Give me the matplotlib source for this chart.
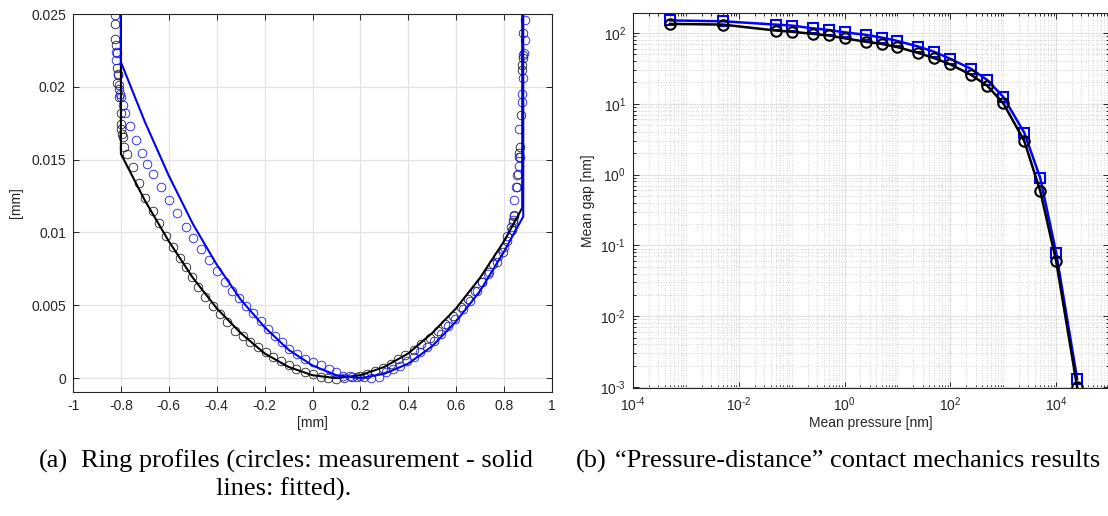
import numpy as np
import matplotlib
matplotlib.use("Agg")
import matplotlib.pyplot as plt
from matplotlib.ticker import FixedLocator, FuncFormatter, NullFormatter

plt.rcParams["font.family"] = ["Liberation Sans", "DejaVu Sans"]
plt.rcParams["axes.unicode_minus"] = False
plt.rcParams["mathtext.default"] = "regular"

# ---------------- (a) ring profiles ----------------
# measured profile, ring 1 (black circles)
meas_black_x = [-0.825, -0.824, -0.819, -0.816, -0.818, -0.813, -0.816, -0.810, -0.806, -0.801,
                -0.799, -0.799, -0.794, -0.791, -0.787, -0.773, -0.751, -0.724, -0.699, -0.667,
                -0.642, -0.612, -0.582, -0.552, -0.530, -0.504, -0.478, -0.448, -0.416, -0.385,
                -0.357, -0.325, -0.291, -0.261, -0.227, -0.194, -0.164, -0.131, -0.100, -0.067,
                -0.033, 0.000, 0.034, 0.064, 0.097, 0.130, 0.164, 0.199, 0.228, 0.261,
                0.294, 0.328, 0.358, 0.388, 0.422, 0.455, 0.490, 0.522, 0.552, 0.587,
                0.619, 0.649, 0.679, 0.709, 0.739, 0.769, 0.796, 0.813, 0.831, 0.836,
                0.843, 0.854, 0.858, 0.861, 0.861, 0.866, 0.869, 0.873, 0.873, 0.878,
                0.881, 0.881]
meas_black_y = [0.02431, 0.02328, 0.02287, 0.02234, 0.02126, 0.02087, 0.02023, 0.01982, 0.01931, 0.01817,
                0.01748, 0.01713, 0.01679, 0.01656, 0.01587, 0.01537, 0.01450, 0.01339, 0.01236, 0.01147,
                0.01064, 0.00979, 0.00899, 0.00826, 0.00761, 0.00697, 0.00628, 0.00560, 0.00498, 0.00440,
                0.00383, 0.00326, 0.00291, 0.00245, 0.00211, 0.00177, 0.00142, 0.00119, 0.00089, 0.00062,
                0.00044, 0.00028, 0.00009, 0.00000, -0.00005, 0.00000, 0.00005, 0.00016, 0.00032, 0.00050,
                0.00073, 0.00096, 0.00131, 0.00158, 0.00193, 0.00234, 0.00275, 0.00326, 0.00372, 0.00429,
                0.00486, 0.00544, 0.00601, 0.00663, 0.00727, 0.00796, 0.00865, 0.00945, 0.01014, 0.01071,
                0.01110, 0.01312, 0.01404, 0.01518, 0.01546, 0.01587, 0.01805, 0.02115, 0.02149, 0.02195,
                0.02218, 0.02367]

# measured profile, ring 2 (blue circles)
meas_blue_x = [-0.825, -0.821, -0.821, -0.813, -0.809, -0.803, -0.799, -0.791, -0.781, -0.761,
               -0.736, -0.712, -0.690, -0.664, -0.634, -0.601, -0.567, -0.530, -0.497, -0.466,
               -0.433, -0.400, -0.366, -0.336, -0.306, -0.276, -0.249, -0.216, -0.187, -0.157,
               -0.127, -0.097, -0.064, -0.030, 0.000, 0.037, 0.067, 0.097, 0.127, 0.157,
               0.187, 0.216, 0.246, 0.276, 0.306, 0.336, 0.366, 0.396, 0.425, 0.448,
               0.478, 0.507, 0.537, 0.567, 0.597, 0.627, 0.657, 0.687, 0.709, 0.731,
               0.754, 0.776, 0.799, 0.813, 0.828, 0.836, 0.843, 0.843, 0.851, 0.855,
               0.861, 0.866, 0.863, 0.873, 0.876, 0.881, 0.885, 0.888, 0.888]
meas_blue_y = [0.02493, 0.02241, 0.02183, 0.02080, 0.02011, 0.01954, 0.01931, 0.01874, 0.01817, 0.01729,
               0.01633, 0.01546, 0.01472, 0.01399, 0.01312, 0.01220, 0.01133, 0.01041, 0.00963, 0.00888,
               0.00812, 0.00734, 0.00658, 0.00601, 0.00548, 0.00498, 0.00447, 0.00390, 0.00337, 0.00291,
               0.00245, 0.00200, 0.00165, 0.00131, 0.00108, 0.00092, 0.00062, 0.00039, 0.00016, 0.00016,
               0.00009, 0.00005, -0.00002, 0.00009, 0.00039, 0.00062, 0.00085, 0.00119, 0.00147, 0.00177,
               0.00211, 0.00257, 0.00303, 0.00360, 0.00406, 0.00475, 0.00532, 0.00601, 0.00658, 0.00716,
               0.00784, 0.00842, 0.00899, 0.00979, 0.01037, 0.01083, 0.01117, 0.01220, 0.01312, 0.01392,
               0.01456, 0.01518, 0.01713, 0.01897, 0.01954, 0.02062, 0.02229, 0.02321, 0.02459]

# fitted profiles (solid lines)
fit_black_x = [-0.8, -0.8, -0.7, -0.6, -0.5, -0.4, -0.3, -0.2, -0.1, 0.0, 0.1,
               0.2, 0.3, 0.4, 0.5, 0.6, 0.7, 0.8, 0.876, 0.876]
fit_black_y = [0.025, 0.0154, 0.0122, 0.0094, 0.0069, 0.0048, 0.0031, 0.0017, 0.00077, 0.0002, 0.0,
               0.0002, 0.00077, 0.0017, 0.0031, 0.0048, 0.0069, 0.0094, 0.0117, 0.025]
fit_blue_x = [-0.8, -0.8, -0.7, -0.6, -0.5, -0.4, -0.3, -0.2, -0.1, 0.0, 0.1,
              0.2, 0.3, 0.4, 0.5, 0.6, 0.7, 0.8, 0.88, 0.88]
fit_blue_y = [0.025, 0.0217, 0.0176, 0.0139, 0.0106, 0.0078, 0.0054, 0.0035, 0.00195, 0.00087, 0.0002,
              0.0, 0.0003, 0.0010, 0.0022, 0.0039, 0.0060, 0.0087, 0.0111, 0.025]

profile_xticks = [-1, -0.8, -0.6, -0.4, -0.2, 0, 0.2, 0.4, 0.6, 0.8, 1]
profile_yticks = [0, 0.005, 0.01, 0.015, 0.02, 0.025]

# ---------------- (b) pressure-distance ----------------
pressure = [5e-4, 5e-3, 0.05, 0.1, 0.25, 0.5, 1, 2.5, 5, 10,
            25, 50, 100, 250, 500, 1000, 2500, 5000, 1e4, 2.5e4]
gap_black = [134, 131, 108, 104, 97, 92, 84, 75, 70, 63,
             52, 44, 36, 25.4, 17.9, 10.2, 2.98, 0.59, 0.0605, 0.001]
gap_blue = [150, 146, 131, 127, 116, 110, 102, 94, 86, 77,
            64, 54, 43, 30.9, 21.6, 12.5, 3.9, 0.90, 0.079, 0.0013]

axis_col = "#262626"
grid_col = "#e3e3e3"

fig = plt.figure(figsize=(11.08, 5.16), dpi=100)
W, H = 1108, 516
ax1 = fig.add_axes([73 / W, (H - 392) / H, 479 / W, 378 / H])
ax2 = fig.add_axes([633 / W, (H - 388) / H, 476 / W, 375 / H])


def style_axes(ax):
    for s in ax.spines.values():
        s.set_color(axis_col)
        s.set_linewidth(0.8)
    ax.tick_params(which="both", direction="in", top=True, right=True,
                   colors=axis_col, labelcolor=axis_col, labelsize=10, width=0.7)
    ax.tick_params(which="major", length=4.5, pad=5)
    ax.tick_params(which="minor", length=2.5)
    ax.set_axisbelow(True)


def log_label(v, pos):
    e = int(round(np.log10(v)))
    sign = "-" if e < 0 else ""
    return rf"$10^{{{sign}{abs(e)}}}$".replace("{-", "{\u2010")


# (a)
ax1.plot(meas_black_x, meas_black_y, "o", ls="none", mfc="none", mec="#222222",
         ms=6.2, mew=0.6)
ax1.plot(meas_blue_x, meas_blue_y, "o", ls="none", mfc="none", mec="#1a1aff",
         ms=6.2, mew=0.6)
ax1.plot(fit_black_x, fit_black_y, "-", color="black", lw=1.5)
ax1.plot(fit_blue_x, fit_blue_y, "-", color="#0000ff", lw=1.5)
ax1.set_xlim(-1, 1)
ax1.set_ylim(-0.00095, 0.025)
ax1.xaxis.set_major_locator(FixedLocator(profile_xticks))
ax1.yaxis.set_major_locator(FixedLocator(profile_yticks))
ax1.xaxis.set_major_formatter(FuncFormatter(lambda v, p: f"{round(v, 4):g}"))
ax1.yaxis.set_major_formatter(FuncFormatter(lambda v, p: f"{round(v, 5):g}"))
ax1.grid(True, which="major", color=grid_col, lw=0.9)
style_axes(ax1)
ax1.set_xlabel("[mm]", fontsize=10, color=axis_col, labelpad=2)
ax1.set_ylabel("[mm]", fontsize=10, color=axis_col, labelpad=6)

# (b)
ax2.set_xscale("log")
ax2.set_yscale("log")
ax2.plot(pressure, gap_blue, "-s", color="#0000ff", lw=1.8, ms=7, mew=1.5, mfc="none")
ax2.plot(pressure, gap_black, "-o", color="black", lw=1.8, ms=7.5, mew=1.5, mfc="none")
ax2.set_xlim(1e-4, 1e5)
ax2.set_ylim(9.7e-4, 191)
xmaj = [1e-4, 1e-2, 1e0, 1e2, 1e4]
xmin = [k * 10.0 ** e for e in range(-4, 5) for k in range(1, 10)]
xmin = [v for v in xmin if v not in xmaj and v <= 1e5]
ymaj = [1e-3, 1e-2, 1e-1, 1e0, 1e1, 1e2]
ymin = [k * 10.0 ** e for e in range(-3, 3) for k in range(2, 10)]
ax2.xaxis.set_major_locator(FixedLocator(xmaj))
ax2.xaxis.set_minor_locator(FixedLocator(xmin))
ax2.yaxis.set_major_locator(FixedLocator(ymaj))
ax2.yaxis.set_minor_locator(FixedLocator(ymin))
ax2.xaxis.set_minor_formatter(NullFormatter())
ax2.yaxis.set_minor_formatter(NullFormatter())
ax2.xaxis.set_major_formatter(FuncFormatter(log_label))
ax2.yaxis.set_major_formatter(FuncFormatter(log_label))
ax2.grid(True, which="major", color=grid_col, lw=0.9)
ax2.grid(True, which="minor", color="#c8c8c8", lw=0.6, ls=(0, (1, 2)))
style_axes(ax2)
ax2.set_xlabel("Mean pressure [nm]", fontsize=10, color=axis_col, labelpad=2)
ax2.set_ylabel("Mean gap [nm]", fontsize=10, color=axis_col, labelpad=4)

# captions
cap = dict(fontfamily=["Liberation Serif", "DejaVu Serif"], fontsize=19, va="center",
           ha="left", color="black")
fig.text(39 / W, 1 - 461 / H, "(a)", **cap)
fig.text(81 / W, 1 - 461 / H, "Ring profiles (circles: measurement - solid", **cap)
fig.text(216 / W, 1 - 489 / H, "lines: fitted).", **cap)
fig.text(576 / W, 1 - 461 / H, "(b)", **cap)
fig.text(615 / W, 1 - 461 / H, "\u201cPressure-distance\u201d contact mechanics results", **cap)

fig.savefig("out.png", dpi=100)
